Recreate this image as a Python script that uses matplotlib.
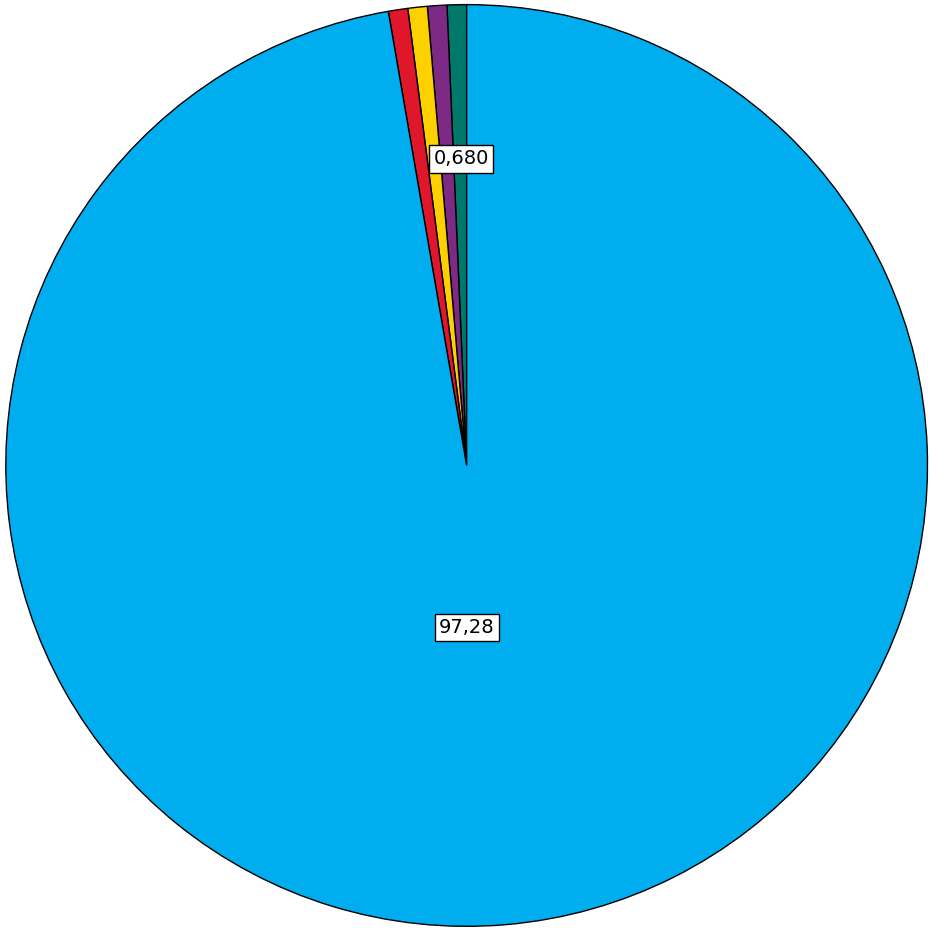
import matplotlib.pyplot as plt

# slices, counterclockwise from 12 o'clock
names = ['teal', 'purple', 'yellow', 'red', 'blue']
values = [0.68, 0.68, 0.68, 0.68, 97.28]
colors = ['#00786a', '#7d2a84', '#fdd000', '#e0162b', '#00aeef']


def fmt(v):
    s = '%.3f' % v if v < 1 else '%.2f' % v
    return s.replace('.', ',')


def main():
    fig = plt.figure(figsize=(9.31, 9.30), dpi=100)
    ax = fig.add_axes([0, 0, 1, 1])
    wedges, _ = ax.pie(values, colors=colors, startangle=90,
                       counterclock=True,
                       wedgeprops=dict(edgecolor='black', linewidth=1.0))
    ax.set_xlim(-1.012, 1.007)
    ax.set_ylim(-1.008, 1.01)
    ax.set_aspect('equal')
    ax.axis('off')

    box = dict(boxstyle='square,pad=0.22', fc='white', ec='black', lw=1.0)
    # only one of the small slices is labelled, above the centre
    ax.text(-0.012, 0.665, fmt(values[0]), ha='center', va='center',
            fontsize=14, bbox=box)
    ax.text(0.0, -0.352, fmt(values[4]), ha='center', va='center',
            fontsize=14, bbox=box)

    plt.savefig('out.png', dpi=100)


if __name__ == '__main__':
    main()
